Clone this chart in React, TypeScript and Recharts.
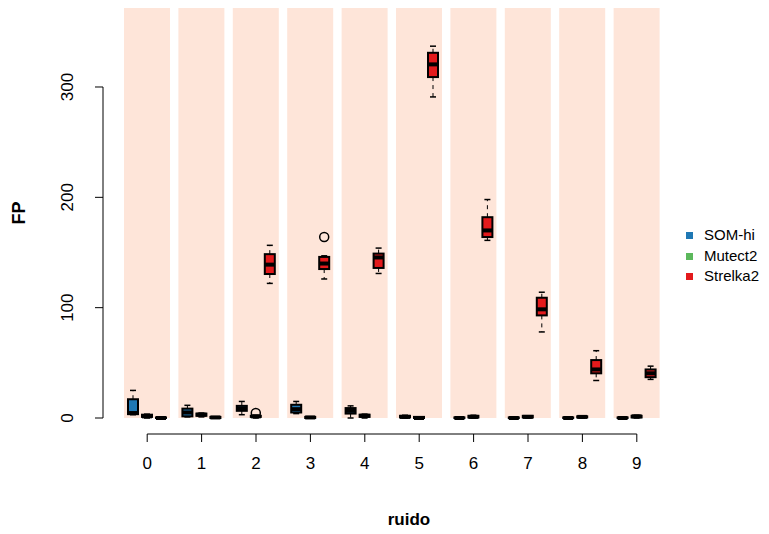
import { ComposedChart, Bar, XAxis, YAxis, ReferenceLine, Legend } from "recharts";

const ruido = ["0", "1", "2", "3", "4", "5", "6", "7", "8", "9"];

// box stats per ruido level: [min, q1, median, q3, max]
const somHi = [
  [3, 3.5, 4.5, 17, 25],
  [1, 1.5, 5, 8.5, 11.5],
  [3, 6.5, 8.5, 11, 15],
  [4, 5, 8, 12, 15],
  [0, 4, 6.5, 9, 11],
  [0, 0.5, 1, 2, 2.5],
  [0, 0, 0, 0.5, 0.5],
  [0, 0, 0, 0.5, 0.5],
  [0, 0, 0, 0.5, 0.5],
  [0, 0, 0, 0.5, 0.5],
];
const mutect2 = [
  [0, 1, 1.5, 3, 3.5],
  [1, 2, 3, 4, 4.5],
  [0, 1, 1.5, 2, 2.5],
  [0, 0, 0.5, 1, 1],
  [0, 1, 2, 3, 3.5],
  [0, 0, 0, 1, 1],
  [0, 0.5, 1, 2, 2.5],
  [0, 0.5, 1, 2, 2],
  [0, 0.5, 1, 1.5, 2],
  [0, 0.5, 1.5, 2, 2.5],
];
const strelka2 = [
  [0, 0, 0, 0.5, 1],
  [0, 0, 0.5, 1, 1],
  [122, 130.5, 139, 148.5, 156.5],
  [126, 135, 140, 146, 147],
  [131, 136, 145.5, 149, 154],
  [291, 309, 320.5, 331, 337],
  [161, 164, 170, 182, 198],
  [78, 93, 98.5, 109, 114],
  [34, 40.5, 44, 52.5, 61],
  [35, 37, 40.5, 44, 47],
];

const somHiOut: number[][] = [[], [], [], [], [], [], [], [], [], []];
const mutect2Out: number[][] = [[], [], [4.5], [], [], [], [], [], [], []];
const strelka2Out: number[][] = [[], [], [], [164], [], [], [], [], [], []];

const seriesOrder = ["SOM-hi", "Mutect2", "Strelka2"];

const Y_MIN = -14.5;
const Y_MAX = 371.6;
const yTicks = [0, 100, 200, 300];

const COLORS = { som: "#1f78b4", mut: "#5cb85c", str: "#e31a1c" };

const toBox = (s: number[], out: number[]) => ({
  min: s[0], q1: s[1], med: s[2], q3: s[3], max: s[4], out,
});

const rows = ruido.map((r, i) => ({
  ruido: r,
  band: [0, Y_MAX],
  som: toBox(somHi[i], somHiOut[i]),
  mut: toBox(mutect2[i], mutect2Out[i]),
  str: toBox(strelka2[i], strelka2Out[i]),
}));

const span = (b: any) => [Math.min(b.min, ...b.out), Math.max(b.max, ...b.out)];

const makeBox = (key: string, color: string) => (props: any) => {
  const { x, y, width, height, payload } = props;
  const b = payload[key];
  const [lo, hi] = span(b);
  const top = Math.min(y, y + height);
  const bottom = Math.max(y, y + height);
  const py = (v: number) => (hi === lo ? top : bottom - ((v - lo) * (bottom - top)) / (hi - lo));
  const cx = x + width / 2;
  const sw = width * 0.3;
  return (
    <g>
      <line x1={cx} x2={cx} y1={py(b.q3)} y2={py(b.max)} stroke="#000" strokeDasharray="4 4" />
      <line x1={cx} x2={cx} y1={py(b.q1)} y2={py(b.min)} stroke="#000" strokeDasharray="4 4" />
      <line x1={cx - sw} x2={cx + sw} y1={py(b.max)} y2={py(b.max)} stroke="#000" strokeWidth={1.5} />
      <line x1={cx - sw} x2={cx + sw} y1={py(b.min)} y2={py(b.min)} stroke="#000" strokeWidth={1.5} />
      <rect x={x} y={py(b.q3)} width={width} height={py(b.q1) - py(b.q3)} fill={color} stroke="#000" strokeWidth={2} />
      <line x1={x} x2={x + width} y1={py(b.med)} y2={py(b.med)} stroke="#000" strokeWidth={4} />
      {b.out.map((o: number, j: number) => (
        <circle key={j} cx={cx} cy={py(o)} r={4.5} fill="none" stroke="#000" strokeWidth={1.5} />
      ))}
    </g>
  );
};

const YTick = ({ x, y, payload }: any) => (
  <text x={x} y={y} transform={`rotate(-90, ${x}, ${y})`} textAnchor="middle" fontSize={17} fill="#000">
    {payload.value}
  </text>
);

const FpLabel = ({ viewBox }: any) => {
  const cx = viewBox.x + 17;
  const cy = viewBox.y + viewBox.height / 2 - 8;
  return (
    <text x={cx} y={cy} transform={`rotate(-90, ${cx}, ${cy})`} textAnchor="middle" fontSize={18} fontWeight="bold" fill="#000">
      FP
    </text>
  );
};

const pad = { left: 17, right: 51 };

export default function App() {
  return (
    <ComposedChart
      width={761}
      height={526}
      data={rows}
      margin={{ top: 0, right: 54, bottom: 0, left: 0 }}
      barGap={4}
      style={{ fontFamily: "'Liberation Sans', Arial, sans-serif" }}
    >
      <XAxis xAxisId="bg" dataKey="ruido" hide padding={pad} />
      <XAxis xAxisId="frame" type="number" domain={[0, 1]} hide />
      <XAxis
        dataKey="ruido"
        padding={pad}
        height={100}
        axisLine={false}
        tickLine={{ stroke: "#000" }}
        tickSize={8}
        tickMargin={15}
        tick={{ fill: "#000", fontSize: 17 }}
        label={{ value: "ruido", position: "insideBottom", offset: 9, fontSize: 17, fontWeight: "bold", fill: "#000" }}
      />
      <YAxis
        domain={[Y_MIN, Y_MAX]}
        ticks={yTicks}
        width={95}
        axisLine={false}
        tickLine={{ stroke: "#000" }}
        tickSize={8}
        tickMargin={22}
        tick={<YTick />}
        label={<FpLabel />}
      />
      <Bar xAxisId="bg" dataKey="band" barSize={46} fill="#fee5d9" isAnimationActive={false} legendType="none" />
      <ReferenceLine xAxisId="frame" segment={[{ x: 0, y: 0 }, { x: 0, y: 300 }]} stroke="#000" ifOverflow="visible" />
      <ReferenceLine segment={[{ x: "0", y: Y_MIN }, { x: "9", y: Y_MIN }]} stroke="#000" ifOverflow="visible" />
      <Bar dataKey={(d: any) => span(d.som)} name="SOM-hi" fill={COLORS.som} barSize={10} isAnimationActive={false} shape={makeBox("som", COLORS.som)} />
      <Bar dataKey={(d: any) => span(d.mut)} name="Mutect2" fill={COLORS.mut} barSize={10} isAnimationActive={false} shape={makeBox("mut", COLORS.mut)} />
      <Bar dataKey={(d: any) => span(d.str)} name="Strelka2" fill={COLORS.str} barSize={10} isAnimationActive={false} shape={makeBox("str", COLORS.str)} />
      <Legend
        layout="vertical"
        align="center"
        verticalAlign="middle"
        iconType="square"
        iconSize={7}
        itemSorter={(item: any) => seriesOrder.indexOf(item.value)}
        wrapperStyle={{ left: 678, top: 217, width: 85, lineHeight: "20.5px", fontFamily: "'Liberation Sans', Arial, sans-serif" }}
        formatter={(v: any) => <span style={{ color: "#000", fontSize: 15, marginLeft: 7 }}>{v}</span>}
      />
    </ComposedChart>
  );
}
